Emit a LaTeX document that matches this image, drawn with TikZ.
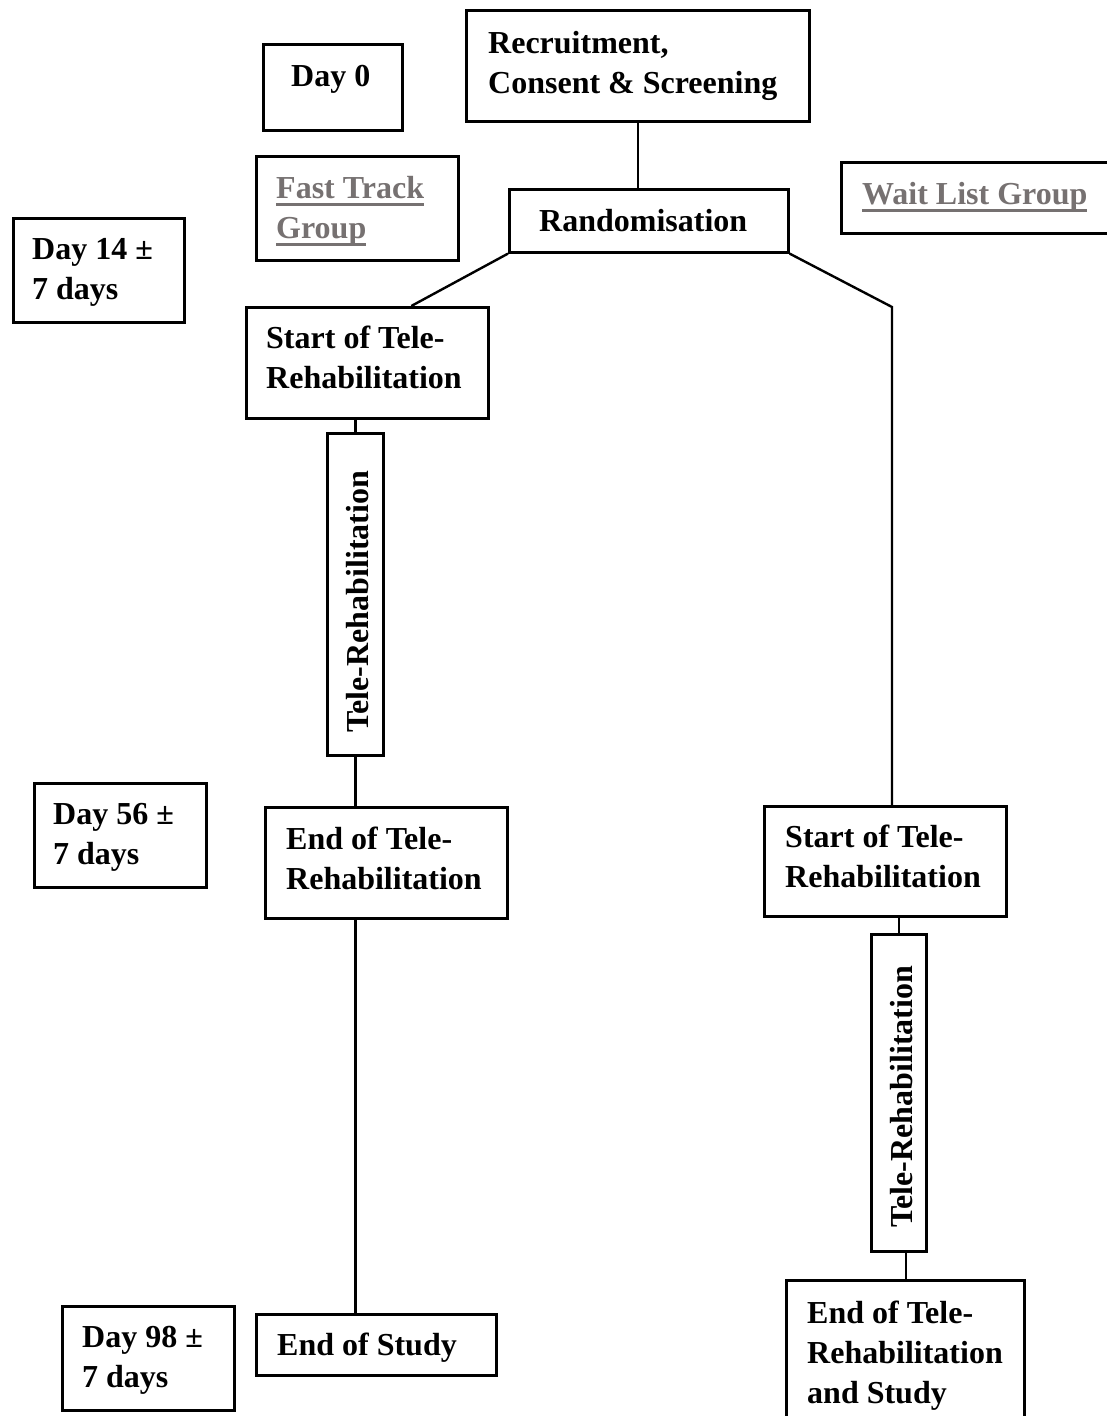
\documentclass[tikz,border=0pt]{standalone}
\usepackage{fontspec}
\setmainfont{Liberation Serif}
\definecolor{groupgrey}{HTML}{767171}
\newcommand{\groupline}[1]{\setbox0\hbox{#1}\rlap{\rule[-7.5pt]{\wd0}{2.8pt}}\box0}

\begin{document}
\begin{tikzpicture}[
  x=1pt,
  y=-1pt,
  line join=miter,
  frame/.style={draw=black,line width=2.6pt,inner sep=0pt,anchor=north west},
  txt/.style={inner sep=0pt,anchor=north west,align=left,font=\bfseries\fontsize{32}{40}\selectfont},
  grouptxt/.style={txt,text=groupgrey},
  vtxt/.style={txt,rotate=90,anchor=base west},
  link/.style={draw=black,line width=2.4pt}
]
  \useasboundingbox (0,0) rectangle (1106,1416);
  \fill[white] (0,0) rectangle (1106,1416);

  % Time line on the left.
  \node[frame,minimum width=139pt,minimum height=86pt] (day0) at (262,43) {};
  \node[txt] (day0txt) at (291,65) {Day 0};
  \node[frame,minimum width=171pt,minimum height=104pt] (day14) at (12,217) {};
  \node[txt] (day14txt) at (32,238) {Day 14 ±\\7 days};
  \node[frame,minimum width=172pt,minimum height=104pt] (day56) at (33,782) {};
  \node[txt] (day56txt) at (53,803) {Day 56 ±\\7 days};
  \node[frame,minimum width=172pt,minimum height=104pt] (day98) at (61,1305) {};
  \node[txt] (day98txt) at (82,1326) {Day 98 ±\\7 days};

  % Group headings.
  \node[frame,minimum width=202pt,minimum height=104pt] (fast) at (255,155) {};
  \node[grouptxt] (fasttxt) at (276,176) {\groupline{Fast Track}\\\groupline{Group}};
  \node[frame,minimum width=280pt,minimum height=71pt] (wait) at (840,161) {};
  \node[grouptxt] (waittxt) at (862,182) {\groupline{Wait List Group}};

  % Enrolment and allocation.
  \node[frame,minimum width=343pt,minimum height=111pt] (recruit) at (465,9) {};
  \node[txt] (recruittxt) at (488,31) {Recruitment,\\Consent \& Screening};
  \node[frame,minimum width=279pt,minimum height=63pt] (rand) at (508,188) {};
  \node[txt] (randtxt) at (539,209) {Randomisation};

  % Fast track arm.
  \node[frame,minimum width=242pt,minimum height=111pt] (startl) at (245,306) {};
  \node[txt] (startltxt) at (266,326) {Start of Tele-\\Rehabilitation};
  \node[frame,minimum width=56pt,minimum height=322pt] (tell) at (326,432) {};
  \node[vtxt] (telltxt) at (368,733) {Tele-Rehabilitation};
  \node[frame,minimum width=242pt,minimum height=111pt] (endl) at (264,806) {};
  \node[txt] (endltxt) at (286,827) {End of Tele-\\Rehabilitation};
  \node[frame,minimum width=240pt,minimum height=61pt] (eos) at (255,1313) {};
  \node[txt] (eostxt) at (277,1333) {End of Study};

  % Wait list arm.
  \node[frame,minimum width=242pt,minimum height=110pt] (startr) at (763,805) {};
  \node[txt] (startrtxt) at (785,825) {Start of Tele-\\Rehabilitation};
  \node[frame,minimum width=55pt,minimum height=317pt] (telr) at (870,933) {};
  \node[vtxt] (telrtxt) at (912,1228) {Tele-Rehabilitation};
  \node[frame,minimum width=238pt,minimum height=151pt] (endr) at (785,1279) {};
  \node[txt] (endrtxt) at (807,1301) {End of Tele-\\Rehabilitation\\and Study};

  % Connectors.
  \coordinate (rbend) at (892,307);
  \draw[link] (recruit.south) -- (recruit.south |- rand.north);
  \draw[link] (rand.south west) -- ([xshift=44pt]startl.north);
  \draw[link] (rand.south east) -- (rbend) -- (rbend |- startr.north);
  \draw[link] (tell.north |- startl.south) -- (tell.north);
  \draw[link] (tell.south) -- (tell.south |- endl.north);
  \draw[link] (tell.south |- endl.south) -- (tell.south |- eos.north);
  \draw[link] (telr.north |- startr.south) -- (telr.north);
  \draw[link] ([xshift=7pt]telr.south) -- ([xshift=7pt]telr.south |- endr.north);
\end{tikzpicture}
\end{document}
